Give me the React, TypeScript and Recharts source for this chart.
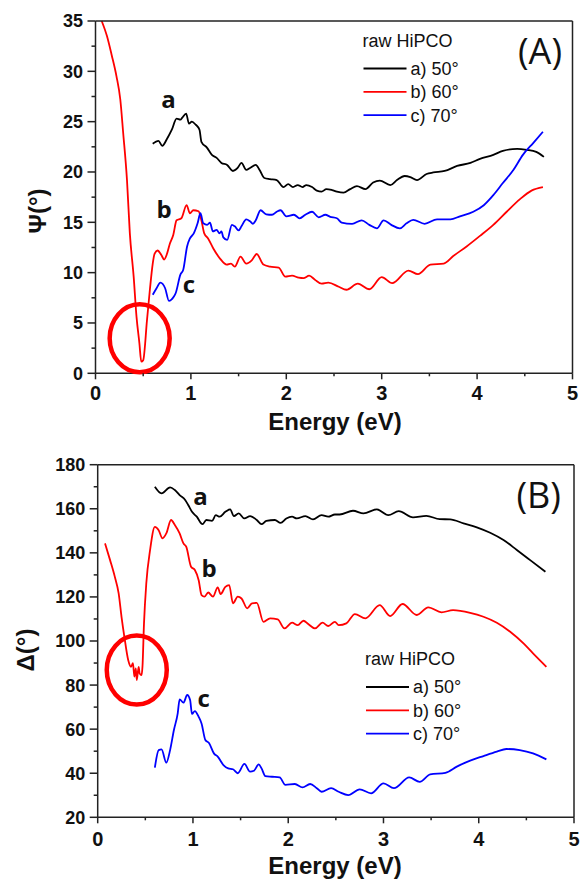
import React from "react";
import { LineChart, Line, XAxis, YAxis, ReferenceDot } from "recharts";

type Pt = [number, number];

// tick positions (major ticks carry labels, the rest are minor marks)
const energyTicks = [0, 0.5, 1, 1.5, 2, 2.5, 3, 3.5, 4, 4.5, 5];
const psiTicks = [0, 2.5, 5, 7.5, 10, 12.5, 15, 17.5, 20, 22.5, 25, 27.5, 30, 32.5, 35];
const deltaTicks = [20, 30, 40, 50, 60, 70, 80, 90, 100, 110, 120, 130, 140, 150, 160, 170, 180];

const legendRows = ["a) 50°", "b) 60°", "c) 70°"];
const curveLabels = ["a", "b", "c"];
const COLORS = ["#000000", "#ff0000", "#0000ff"];

// (A) Psi, energy in eV -> degrees
const psi50: Pt[] = [
  [0.6, 22.8], [0.66, 23.1], [0.7, 22.6], [0.75, 23.3], [0.8, 24.2], [0.85, 25.3], [0.89, 25.2], [0.91, 25.4],
  [0.95, 25.8], [0.98, 24.8], [1.01, 25.0], [1.05, 24.7], [1.09, 24.2], [1.11, 23.0], [1.17, 22.4], [1.22, 21.7],
  [1.27, 21.4], [1.32, 20.9], [1.38, 20.7], [1.44, 20.1], [1.49, 20.4], [1.53, 20.9], [1.58, 20.2], [1.62, 20.4],
  [1.68, 20.7], [1.72, 20.2], [1.77, 19.4], [1.83, 19.3], [1.9, 19.2], [1.97, 18.5], [2.02, 18.8], [2.07, 18.5],
  [2.12, 18.7], [2.17, 18.5], [2.21, 18.7], [2.27, 18.5], [2.32, 18.15], [2.37, 18.05], [2.42, 18.3], [2.48, 18.2],
  [2.53, 18.05], [2.6, 17.95], [2.67, 18.3], [2.74, 18.6], [2.83, 18.3], [2.91, 18.95], [2.98, 19.15], [3.09, 18.7],
  [3.16, 19.2], [3.24, 19.6], [3.3, 19.5], [3.37, 19.2], [3.47, 19.8], [3.54, 19.95], [3.66, 20.1], [3.79, 20.6],
  [3.93, 20.9], [4.03, 21.3], [4.17, 21.7], [4.27, 22.1], [4.42, 22.3], [4.52, 22.2], [4.62, 22.0], [4.7, 21.5],
];
const psi60: Pt[] = [
  [0.065, 35.0], [0.12, 33.5], [0.17, 31.6], [0.22, 29.5], [0.26, 27.2], [0.29, 23.9], [0.33, 19.2], [0.36, 13.9],
  [0.4, 9.6], [0.43, 5.6], [0.46, 3.0], [0.48, 1.15], [0.5, 1.3], [0.54, 5.3], [0.57, 8.3], [0.6, 10.9],
  [0.62, 11.9], [0.65, 12.2], [0.69, 11.75], [0.72, 11.3], [0.745, 11.75], [0.78, 12.9], [0.815, 13.75], [0.85, 15.2],
  [0.9, 15.4], [0.955, 16.7], [0.99, 15.9], [1.025, 16.2], [1.08, 16.1], [1.11, 15.2], [1.14, 13.9], [1.18, 13.4],
  [1.235, 12.4], [1.305, 11.4], [1.375, 10.8], [1.42, 10.9], [1.46, 10.6], [1.52, 11.6], [1.58, 10.9], [1.64, 11.25],
  [1.69, 11.85], [1.76, 10.8], [1.83, 10.6], [1.92, 10.5], [1.99, 9.6], [2.06, 9.7], [2.13, 9.5], [2.18, 9.45],
  [2.24, 9.7], [2.3, 9.3], [2.37, 8.9], [2.44, 9.0], [2.55, 8.6], [2.63, 8.3], [2.75, 8.9], [2.87, 8.35],
  [3.0, 9.55], [3.11, 8.95], [3.28, 10.2], [3.38, 9.85], [3.51, 10.8], [3.65, 10.9], [3.75, 11.65], [3.89, 12.6],
  [4.03, 13.65], [4.17, 14.75], [4.31, 16.05], [4.45, 17.3], [4.57, 18.15], [4.69, 18.5],
];
const psi70: Pt[] = [
  [0.6, 7.8], [0.64, 8.45], [0.68, 9.0], [0.73, 8.45], [0.77, 7.2], [0.82, 7.6], [0.84, 7.95], [0.89, 9.8],
  [0.92, 10.3], [0.96, 12.6], [0.99, 13.4], [1.03, 13.9], [1.07, 14.9], [1.1, 15.9], [1.13, 14.9], [1.17, 14.75],
  [1.2, 14.97], [1.23, 14.1], [1.27, 14.25], [1.3, 13.9], [1.32, 14.1], [1.34, 13.5], [1.38, 13.25], [1.43, 14.75],
  [1.46, 14.6], [1.5, 14.2], [1.53, 14.6], [1.58, 15.3], [1.62, 15.1], [1.65, 14.85], [1.68, 15.2], [1.73, 16.2],
  [1.79, 15.8], [1.85, 15.75], [1.9, 16.05], [1.94, 16.2], [2.0, 15.6], [2.08, 15.75], [2.14, 15.4], [2.2, 15.75],
  [2.27, 16.05], [2.34, 15.5], [2.41, 15.75], [2.46, 15.55], [2.53, 15.4], [2.58, 14.97], [2.69, 14.85], [2.79, 15.2],
  [2.87, 14.75], [2.95, 14.4], [3.02, 15.2], [3.1, 14.75], [3.19, 14.4], [3.26, 14.9], [3.33, 15.25], [3.45, 14.85],
  [3.58, 15.3], [3.72, 15.3], [3.82, 15.6], [3.96, 16.05], [4.07, 16.7], [4.17, 17.7], [4.27, 18.9], [4.38, 20.2],
  [4.48, 21.7], [4.59, 22.9], [4.69, 24.0],
];

// (B) Delta
const delta50: Pt[] = [
  [0.6, 170.0], [0.67, 167.0], [0.76, 169.7], [0.81, 168.5], [0.86, 166.2], [0.92, 163.9], [0.95, 161.7], [0.99, 158.6],
  [1.04, 156.4], [1.1, 153.0], [1.14, 154.9], [1.2, 154.5], [1.24, 157.1], [1.28, 156.4], [1.34, 158.6], [1.39, 159.7],
  [1.43, 156.7], [1.48, 157.9], [1.54, 155.6], [1.6, 156.7], [1.67, 154.9], [1.72, 153.0], [1.77, 154.5], [1.86, 154.9],
  [1.92, 153.6], [1.98, 155.6], [2.04, 156.4], [2.09, 155.6], [2.18, 156.7], [2.26, 155.2], [2.35, 157.1], [2.42, 156.4],
  [2.49, 157.4], [2.54, 157.4], [2.68, 159.1], [2.79, 157.9], [2.93, 159.7], [3.05, 157.1], [3.16, 158.9], [3.31, 156.1],
  [3.45, 156.8], [3.59, 155.3], [3.7, 155.2], [3.84, 153.4], [3.98, 151.6], [4.12, 149.1], [4.26, 145.8], [4.4, 141.3],
  [4.54, 136.7], [4.7, 131.4],
];
const delta60: Pt[] = [
  [0.077, 144.3], [0.13, 136.7], [0.18, 129.1], [0.22, 121.6], [0.25, 111.0], [0.28, 101.9], [0.32, 91.4], [0.35, 88.3],
  [0.37, 89.9], [0.385, 83.8], [0.4, 87.6], [0.41, 82.3], [0.43, 88.3], [0.44, 85.3], [0.46, 84.5], [0.47, 88.3],
  [0.486, 108.0], [0.51, 126.1], [0.55, 141.3], [0.6, 151.8], [0.64, 150.3], [0.68, 146.6], [0.72, 148.8], [0.77, 154.9],
  [0.81, 152.6], [0.86, 148.8], [0.9, 144.3], [0.93, 142.7], [0.98, 133.7], [1.02, 132.2], [1.06, 127.6], [1.09, 120.8],
  [1.12, 120.1], [1.16, 122.0], [1.21, 120.1], [1.26, 124.3], [1.29, 121.3], [1.34, 124.6], [1.38, 125.4], [1.42, 117.1],
  [1.47, 120.1], [1.51, 119.3], [1.57, 114.8], [1.62, 117.1], [1.67, 117.3], [1.74, 108.7], [1.81, 110.3], [1.89, 109.8],
  [1.96, 105.7], [2.04, 108.3], [2.1, 107.2], [2.16, 109.2], [2.21, 107.7], [2.28, 105.7], [2.36, 108.3], [2.42, 106.8],
  [2.49, 108.7], [2.53, 107.2], [2.61, 108.0], [2.7, 112.2], [2.81, 110.3], [2.96, 116.3], [3.07, 111.3], [3.2, 116.8],
  [3.35, 111.8], [3.47, 115.3], [3.61, 113.0], [3.73, 114.0], [3.91, 112.8], [4.05, 111.0], [4.19, 108.3], [4.33, 104.2],
  [4.47, 98.9], [4.57, 94.4], [4.71, 88.3],
];
const delta70: Pt[] = [
  [0.6, 42.5], [0.64, 50.5], [0.67, 50.8], [0.72, 44.8], [0.76, 50.5], [0.8, 59.6], [0.84, 67.2], [0.86, 73.5],
  [0.9, 72.0], [0.94, 75.5], [0.97, 73.2], [0.99, 66.9], [1.02, 68.2], [1.06, 65.6], [1.09, 62.6], [1.13, 55.1],
  [1.17, 53.6], [1.22, 49.0], [1.26, 47.5], [1.32, 43.7], [1.37, 42.2], [1.42, 41.8], [1.47, 40.0], [1.54, 44.2],
  [1.6, 40.7], [1.64, 41.1], [1.69, 44.0], [1.72, 42.2], [1.76, 38.7], [1.83, 38.4], [1.91, 38.1], [1.97, 34.7],
  [2.07, 35.1], [2.15, 33.6], [2.23, 35.1], [2.3, 33.2], [2.35, 31.6], [2.45, 33.2], [2.53, 31.6], [2.63, 30.1],
  [2.75, 32.7], [2.87, 30.9], [3.0, 35.4], [3.11, 33.2], [3.27, 38.1], [3.38, 36.1], [3.49, 39.5], [3.65, 40.2],
  [3.77, 43.0], [3.91, 45.7], [4.05, 47.8], [4.19, 49.8], [4.29, 51.0], [4.43, 50.5], [4.57, 49.0], [4.71, 46.3],
];

const AXIS = "#222";
const TICK_FONT = { fontFamily: "'Liberation Sans', Arial, sans-serif", fontWeight: 700, fontSize: 18, fill: "#111" };
const rows = (pts: Pt[]) => pts.map(([e, v]) => ({ e, v }));

// custom ticks: recharts hands us the axis-line position (tickSize/tickMargin are 0)
function BottomTick({ x, y, payload, labelDy }: any) {
  const major = Number.isInteger(payload.value);
  return (
    <g>
      <line x1={x} x2={x} y1={y} y2={y + (major ? 6 : 3)} stroke={AXIS} strokeWidth={1.5} />
      {major && (
        <text x={x} y={y + labelDy} textAnchor="middle" {...TICK_FONT} fontSize={20}>
          {payload.value}
        </text>
      )}
    </g>
  );
}

function LeftTick({ x, y, payload, step }: any) {
  const major = payload.value % step === 0;
  return (
    <g>
      <line x1={x - (major ? 8 : 4)} x2={x} y1={y} y2={y} stroke={AXIS} strokeWidth={1.5} />
      {major && (
        <text x={x - 12.5} y={y} dy="0.36em" textAnchor="end" {...TICK_FONT}>
          {payload.value}
        </text>
      )}
    </g>
  );
}

const TopTick = ({ x, y }: any) => <line x1={x} x2={x} y1={y} y2={y + 3} stroke={AXIS} strokeWidth={1.2} />;
const RightTick = ({ x, y }: any) => <line x1={x - 3} x2={x} y1={y} y2={y} stroke={AXIS} strokeWidth={1.2} />;

function Panel({
  top, height, margin, yWidth, yDomain, yTicks, yStep, series, circle, labelDy,
}: {
  top: number;
  height: number;
  margin: { top: number; right: number; bottom: number; left: number };
  yWidth: number;
  yDomain: [number, number];
  yTicks: number[];
  yStep: number;
  series: Pt[][];
  circle: { x: number; y: number; rx: number; ry: number };
  labelDy: number;
}) {
  const axisLine = { stroke: AXIS, strokeWidth: 1.5 };
  return (
    <div style={{ position: "absolute", left: 0, top }}>
      <LineChart width={585} height={height} margin={margin}>
        <XAxis
          type="number" dataKey="e" domain={[0, 5]} ticks={energyTicks} interval={0}
          height={1} tickSize={0} tickMargin={0} tickLine={false} stroke={AXIS} axisLine={axisLine}
          tick={(p: any) => <BottomTick {...p} labelDy={labelDy} />}
        />
        <XAxis
          xAxisId="t" orientation="top" type="number" dataKey="e" domain={[0, 5]} ticks={energyTicks} interval={0}
          height={1} tickSize={0} tickMargin={0} tickLine={false} stroke={AXIS} axisLine={axisLine}
          tick={(p: any) => <TopTick {...p} />}
        />
        <YAxis
          type="number" domain={yDomain} ticks={yTicks} interval={0} width={yWidth}
          tickSize={0} tickMargin={0} tickLine={false} stroke={AXIS} axisLine={axisLine}
          tick={(p: any) => <LeftTick {...p} step={yStep} />}
        />
        <YAxis
          yAxisId="r" orientation="right" type="number" domain={yDomain} ticks={yTicks} interval={0} width={1}
          tickSize={0} tickMargin={0} tickLine={false} stroke={AXIS} axisLine={axisLine}
          tick={(p: any) => <RightTick {...p} />}
        />
        {series.map((pts, i) => (
          <Line
            key={i} data={rows(pts)} dataKey="v" type="monotone" stroke={COLORS[i]}
            strokeWidth={1.8} dot={false} activeDot={false} isAnimationActive={false}
          />
        ))}
        <ReferenceDot
          x={circle.x} y={circle.y}
          shape={(p: any) => (
            <ellipse cx={p.cx} cy={p.cy} rx={circle.rx} ry={circle.ry} fill="none" stroke="#ff0000" strokeWidth={4.5} />
          )}
        />
      </LineChart>
    </div>
  );
}

function Legend({ x, y }: { x: number; y: number }) {
  const font = { fontFamily: "'Liberation Sans', Arial, sans-serif", fontSize: 18, fill: "#111" };
  return (
    <g>
      <text x={x} y={y} {...font}>raw HiPCO</text>
      {legendRows.map((r, i) => (
        <g key={r}>
          <line x1={x + 1} x2={x + 44} y1={y + 22 + i * 23.3} y2={y + 22 + i * 23.3} stroke={COLORS[i]} strokeWidth={1.8} />
          <text x={x + 48} y={y + 22 + i * 23.3} dy="0.36em" {...font}>{r}</text>
        </g>
      ))}
    </g>
  );
}

const TITLE = { fontFamily: "'Liberation Sans', Arial, sans-serif", fontWeight: 700, fontSize: 24, fill: "#111" };
const LETTER = { fontFamily: "'Open Sans', sans-serif", fontWeight: 700, fontSize: 24, fill: "#111", textAnchor: "middle" as const };
const PANEL = { fontFamily: "'Open Sans', sans-serif", fontSize: 36, fill: "#111", textAnchor: "end" as const };

export default function App() {
  return (
    <div style={{ position: "absolute", left: 0, top: 0, width: 585, height: 882, background: "#fff" }}>
      <Panel
        top={0} height={420} margin={{ top: 20, right: 11.5, bottom: 45.7, left: 0 }} yWidth={95.5}
        yDomain={[0, 35]} yTicks={psiTicks} yStep={5} series={[psi50, psi60, psi70]}
        circle={{ x: 0.463, y: 3.48, rx: 30, ry: 34 }} labelDy={27}
      />
      <Panel
        top={440} height={442} margin={{ top: 23.7, right: 10, bottom: 63.7, left: 0 }} yWidth={97.7}
        yDomain={[20, 180]} yTicks={deltaTicks} yStep={20} series={[delta50, delta60, delta70]}
        circle={{ x: 0.41, y: 86.8, rx: 30, ry: 34.5 }} labelDy={29}
      />
      <svg width={585} height={882} style={{ position: "absolute", left: 0, top: 0, pointerEvents: "none" }}>
        {/* panel (A) */}
        <text x={335} y={430} textAnchor="middle" {...TITLE}>Energy (eV)</text>
        <text transform="translate(37,211) rotate(-90)" textAnchor="middle" dy="0.36em" {...TITLE}>Ψ(°)</text>
        <text x={562} y={63.5} {...PANEL}>(A)</text>
        <Legend x={362.5} y={46.5} />
        <text x={168.5} y={108} {...LETTER}>{curveLabels[0]}</text>
        <text x={164} y={218} {...LETTER}>{curveLabels[1]}</text>
        <text x={189} y={293} {...LETTER}>{curveLabels[2]}</text>
        {/* panel (B) */}
        <text x={335} y={874} textAnchor="middle" {...TITLE}>Energy (eV)</text>
        <text transform="translate(25,650) rotate(-90)" textAnchor="middle" dy="0.36em" {...TITLE}>Δ(°)</text>
        <text x={561} y={508} {...PANEL}>(B)</text>
        <Legend x={365} y={665} />
        <text x={200.5} y={505} {...LETTER}>{curveLabels[0]}</text>
        <text x={209} y={576.7} {...LETTER}>{curveLabels[1]}</text>
        <text x={203.7} y={707} {...LETTER}>{curveLabels[2]}</text>
      </svg>
    </div>
  );
}
